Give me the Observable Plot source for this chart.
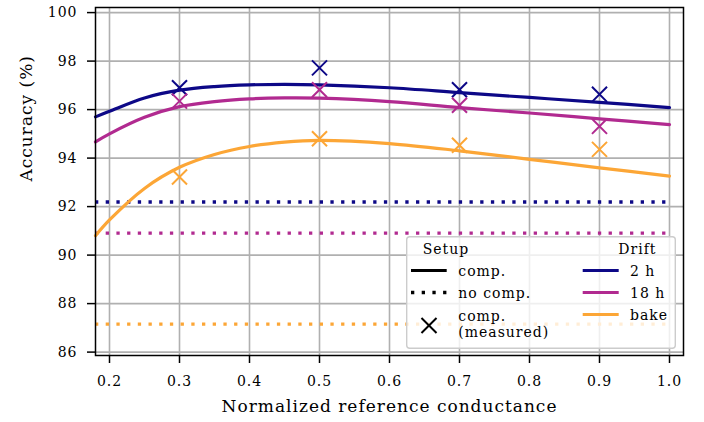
<!DOCTYPE html>
<html><head><meta charset="utf-8">
<script src="https://cdn.jsdelivr.net/npm/d3@7"></script>
<script src="https://cdn.jsdelivr.net/npm/@observablehq/plot@0.6"></script>
<style>
body{margin:0;background:#fff}
#chart{width:704px;height:422px}
#chart svg text{font-family:"DejaVu Serif",serif !important;letter-spacing:1px}
</style>
</head><body><div id="chart"></div>
<script>
// ---- data ----
const drifts = ["2 h", "18 h", "bake"];
const colors = ["#0d0887", "#b12a90", "#fca636"];
const xTicks = [0.2, 0.3, 0.4, 0.5, 0.6, 0.7, 0.8, 0.9, 1.0];
const yTicks = [86, 88, 90, 92, 94, 96, 98, 100];
const xLabel = "Normalized reference conductance";
const yLabel = "Accuracy (%)";
const setupLabels = ["comp.", "no comp.", "comp.", "(measured)"];

const measuredX = [0.3, 0.5, 0.7, 0.9];
const measured2h = [96.9, 97.72, 96.82, 96.63];
const measured18h = [96.35, 96.82, 96.18, 95.31];
const measuredBake = [93.22, 94.8, 94.53, 94.36];

const curveX = [0.18, 0.2, 0.25, 0.3, 0.35, 0.4, 0.45, 0.5, 0.6, 0.7, 0.8, 0.9, 1.0];
const curve2h = [95.7, 95.93, 96.48, 96.8, 96.95, 97.02, 97.04, 97.02, 96.9, 96.7, 96.5, 96.3, 96.08];
const curve18h = [94.67, 95.0, 95.68, 96.12, 96.33, 96.44, 96.48, 96.47, 96.33, 96.08, 95.86, 95.62, 95.38];
const curveBake = [90.8, 91.45, 92.75, 93.62, 94.15, 94.48, 94.66, 94.73, 94.6, 94.3, 93.95, 93.6, 93.26];

const noCompX = [0.18, 1.0];
const noComp = [92.19, 90.91, 87.15];

// ---- tables ----
const curveSeries = [curve2h, curve18h, curveBake];
const measSeries = [measured2h, measured18h, measuredBake];
const curves = drifts.flatMap((d, i) => curveX.map((x, j) => ({drift: d, x, y: curveSeries[i][j]})));
const measured = drifts.flatMap((d, i) => measuredX.map((x, j) => ({drift: d, x, y: measSeries[i][j]})));
const noCompRows = drifts.map((d, i) => ({drift: d, y: noComp[i], x1: noCompX[0], x2: noCompX[1]}));

const FONT = "DejaVu Serif";
const DOTS = "3.3,7.4";
const markerR = 6.9;

const chart = Plot.plot({
  width: 704, height: 422,
  marginLeft: 95, marginRight: 21, marginTop: 7, marginBottom: 67,
  style: {fontSize: "14px", color: "black", background: "white"},
  x: {domain: [0.18, 1.02]},
  y: {domain: [85.86, 100.21]},
  color: {domain: drifts, range: colors},
  marks: [
    Plot.gridX(xTicks, {stroke: "#b0b0b0", strokeOpacity: 1, strokeWidth: 1.6}),
    Plot.gridY(yTicks, {stroke: "#b0b0b0", strokeOpacity: 1, strokeWidth: 1.6}),
    Plot.ruleY(noCompRows, {y: "y", x1: "x1", x2: "x2", stroke: "drift", strokeWidth: 3.3, strokeDasharray: DOTS}),
    Plot.line(curves, {x: "x", y: "y", z: "drift", stroke: "drift", strokeWidth: 3.2, curve: "catmull-rom"}),
    Plot.dot(measured, {x: "x", y: "y", stroke: "drift", symbol: "times", r: markerR, strokeWidth: 2}),
    Plot.frame({stroke: "black", strokeWidth: 1.5}),
    Plot.axisX(xTicks, {tickSize: 8, tickPadding: 13, strokeWidth: 1.5, fontFamily: FONT, fontSize: 14, tickFormat: d3.format(".1f"), label: null}),
    Plot.axisY(yTicks, {tickSize: 8, tickPadding: 10, strokeWidth: 1.5, fontFamily: FONT, fontSize: 14, tickFormat: d3.format("d"), label: null}),
    Plot.text([xLabel], {frameAnchor: "bottom", dy: 51, fontSize: 17, fontFamily: FONT, text: d => d, lineAnchor: "middle"}),
    Plot.text([yLabel], {frameAnchor: "left", dx: -69, rotate: -90, fontSize: 17, fontFamily: FONT, text: d => d, lineAnchor: "middle"})
  ]
});
document.getElementById("chart").appendChild(chart);

// ---- legend ----
const svg = d3.select(chart);
const lg = svg.append("g").attr("font-size", 14).attr("font-family", FONT).attr("text-anchor", "start").attr("fill", "black");
lg.append("rect").attr("x", 406.7).attr("y", 236.7).attr("width", 268.6).attr("height", 111.6)
  .attr("rx", 3).attr("fill", "white").attr("fill-opacity", 0.8).attr("stroke", "#cccccc").attr("stroke-width", 1.4);
lg.append("text").attr("x", 422.7).attr("y", 254).text("Setup");
lg.append("text").attr("x", 618.3).attr("y", 254).text("Drift");
const rowY = [270.5, 292.5, 314.5];
// setup
lg.append("line").attr("x1", 411).attr("x2", 446.7).attr("y1", rowY[0]).attr("y2", rowY[0]).attr("stroke", "black").attr("stroke-width", 3.2);
lg.append("text").attr("x", 458.3).attr("y", rowY[0] + 5.3).text(setupLabels[0]);
lg.append("line").attr("x1", 411).attr("x2", 446.7).attr("y1", rowY[1]).attr("y2", rowY[1]).attr("stroke", "black").attr("stroke-width", 3.3).attr("stroke-dasharray", DOTS);
lg.append("text").attr("x", 458.3).attr("y", rowY[1] + 5.3).text(setupLabels[1]);
lg.append("path").attr("transform", "translate(429,325.5)")
  .attr("d", d3.symbol(d3.symbolTimes, Math.PI * markerR * markerR)())
  .attr("stroke", "black").attr("stroke-width", 2).attr("fill", "none");
lg.append("text").attr("x", 458.3).attr("y", 320.5).text(setupLabels[2]);
lg.append("text").attr("x", 458.3).attr("y", 336.5).text(setupLabels[3]);
// drift
drifts.forEach((d, i) => {
  lg.append("line").attr("x1", 582.7).attr("x2", 618.7).attr("y1", rowY[i]).attr("y2", rowY[i]).attr("stroke", colors[i]).attr("stroke-width", 3.2);
  lg.append("text").attr("x", 630).attr("y", rowY[i] + 5.5).text(d);
});
</script>
</body></html>
